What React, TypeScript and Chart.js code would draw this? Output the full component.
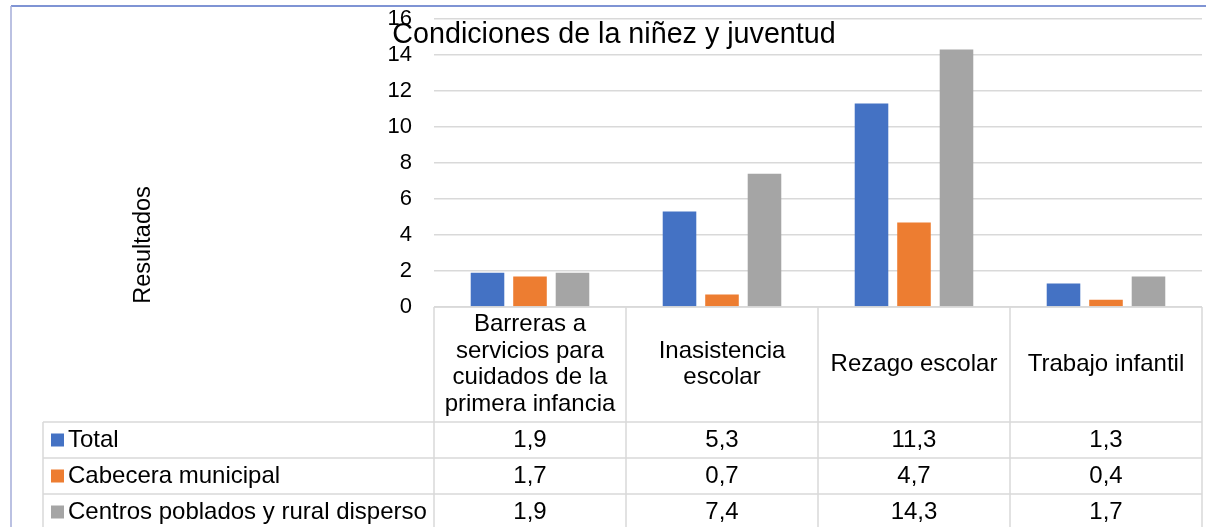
import React, { useEffect, useRef } from "react";
import { Chart, registerables } from "chart.js";

Chart.register(...registerables);

const chartTitle = "Condiciones de la niñez y juventud";
const yAxisTitle = "Resultados";
const categories: string[][] = [
  ["Barreras a", "servicios para", "cuidados de la", "primera infancia"],
  ["Inasistencia", "escolar"],
  ["Rezago escolar"],
  ["Trabajo infantil"],
];
const seriesNames = ["Total", "Cabecera municipal", "Centros poblados y rural disperso"];
const totalValues = [1.9, 5.3, 11.3, 1.3];
const cabeceraValues = [1.7, 0.7, 4.7, 0.4];
const centrosValues = [1.9, 7.4, 14.3, 1.7];
const seriesColors = ["#4472C4", "#ED7D31", "#A5A5A5"];
const yMin = 0;
const yMax = 16;
const yStep = 2;

const FONT = '"Liberation Sans", Arial, sans-serif';

const fmt = (v: number) => v.toFixed(1).replace(".", ",");

const decorPlugin = {
  id: "decor",
  beforeDraw(chart: any) {
    const { ctx, width, height } = chart;
    ctx.save();
    ctx.fillStyle = "#ffffff";
    ctx.fillRect(0, 0, width, height);
    ctx.restore();
  },
  afterDraw(chart: any) {
    const { ctx, chartArea, scales } = chart;
    const x = scales.x;
    const n = categories.length;
    const colW = (chartArea.right - chartArea.left) / n;
    const top = chartArea.bottom;
    const headerBottom = top + 115;
    const rowH = 36;
    const tableLeft = 43;
    const nRows = chart.data.datasets.length;
    const bottom = headerBottom + rowH * nRows;

    ctx.save();
    // outer frame
    ctx.lineWidth = 1.5;
    ctx.strokeStyle = "#5470C6";
    ctx.beginPath();
    ctx.moveTo(11, 6);
    ctx.lineTo(chart.width, 6);
    ctx.stroke();
    ctx.strokeStyle = "#A4ACD9";
    ctx.beginPath();
    ctx.moveTo(11, 6);
    ctx.lineTo(11, chart.height);
    ctx.stroke();

    // table grid
    ctx.strokeStyle = "#D9D9D9";
    ctx.lineWidth = 1.5;
    const line = (x1: number, y1: number, x2: number, y2: number) => {
      ctx.beginPath();
      ctx.moveTo(x1, y1);
      ctx.lineTo(x2, y2);
      ctx.stroke();
    };
    line(chartArea.left, top, chartArea.right, top);
    for (let r = 0; r <= nRows; r++) {
      line(tableLeft, headerBottom + r * rowH, chartArea.right, headerBottom + r * rowH);
    }
    for (let i = 0; i <= n; i++) {
      const vx = chartArea.left + i * colW;
      line(vx, top, vx, bottom);
    }
    line(tableLeft, headerBottom, tableLeft, bottom);

    // header text
    ctx.fillStyle = "#000000";
    ctx.font = `24px ${FONT}`;
    ctx.textAlign = "center";
    ctx.textBaseline = "middle";
    const lh = 26.7;
    const hc = (top + headerBottom) / 2;
    categories.forEach((lines, i) => {
      const cx = x.getPixelForValue(i);
      lines.forEach((l, j) => {
        ctx.fillText(l, cx, hc + (j - (lines.length - 1) / 2) * lh);
      });
    });

    // rows
    chart.data.datasets.forEach((ds: any, r: number) => {
      const cy = headerBottom + r * rowH + rowH / 2;
      ctx.fillStyle = ds.backgroundColor;
      ctx.fillRect(51, cy - 6.5, 13, 13);
      ctx.fillStyle = "#000000";
      ctx.textAlign = "left";
      ctx.fillText(ds.label, 68, cy);
      ctx.textAlign = "center";
      ds.data.forEach((v: number, i: number) => {
        ctx.fillText(fmt(v), x.getPixelForValue(i), cy);
      });
    });

    // y axis title
    ctx.save();
    ctx.translate(150, 245);
    ctx.rotate(-Math.PI / 2);
    ctx.font = `23.5px ${FONT}`;
    ctx.textAlign = "center";
    ctx.textBaseline = "alphabetic";
    ctx.fillText(yAxisTitle, 0, 0);
    ctx.restore();

    // chart title
    ctx.font = `28.7px ${FONT}`;
    ctx.textAlign = "center";
    ctx.textBaseline = "alphabetic";
    ctx.fillText(chartTitle, 614, 43);
    ctx.restore();
  },
};

export default function App() {
  const canvasRef = useRef<HTMLCanvasElement | null>(null);

  useEffect(() => {
    if (!canvasRef.current) return;
    const chart = new Chart(canvasRef.current, {
      type: "bar",
      data: {
        labels: categories,
        datasets: [
          { label: seriesNames[0], data: totalValues, backgroundColor: seriesColors[0] },
          { label: seriesNames[1], data: cabeceraValues, backgroundColor: seriesColors[1] },
          { label: seriesNames[2], data: centrosValues, backgroundColor: seriesColors[2] },
        ],
      },
      options: {
        responsive: false,
        animation: false,
        devicePixelRatio: 1,
        layout: { padding: { left: 0, top: 19, right: 4, bottom: 220 } },
        datasets: { bar: { categoryPercentage: 0.664, barPercentage: 0.79 } },
        plugins: {
          legend: { display: false },
          tooltip: { enabled: false },
          title: { display: false },
        },
        scales: {
          x: { display: false },
          y: {
            min: yMin,
            max: yMax,
            ticks: {
              stepSize: yStep,
              padding: 22,
              color: "#000000",
              font: { family: FONT, size: 22 },
            },
            grid: { color: "#D9D9D9", lineWidth: 1.5, drawTicks: false },
            border: { display: false },
            afterFit: (s: any) => {
              s.width = 434;
              s.paddingTop = 0;
              s.paddingBottom = 0;
            },
          },
        },
      },
      plugins: [decorPlugin],
    } as any);
    return () => chart.destroy();
  }, []);

  return (
    <div style={{ position: "fixed", left: 0, top: 0, width: 1206, height: 527 }}>
      <canvas ref={canvasRef} width={1206} height={527} style={{ width: 1206, height: 527 }} />
    </div>
  );
}
